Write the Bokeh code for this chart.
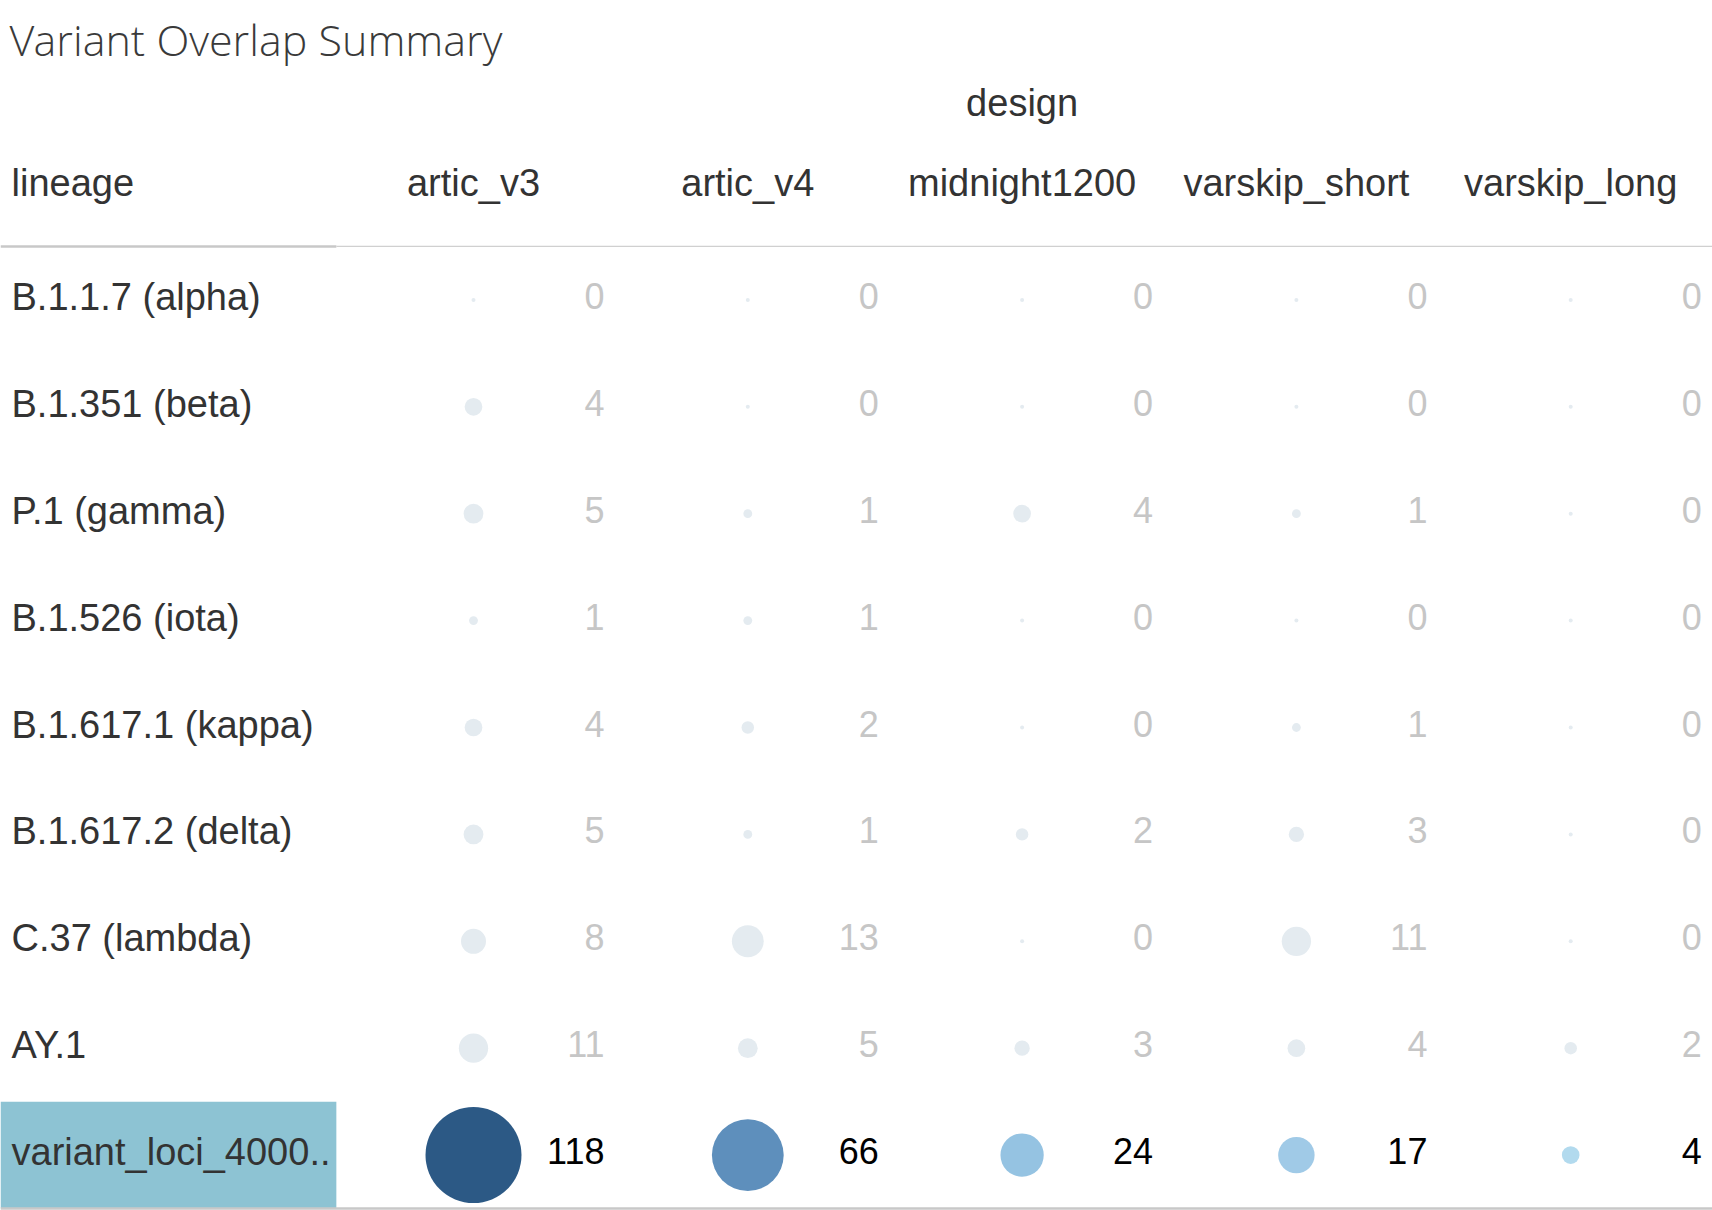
import numpy as np
from bokeh.plotting import figure
from bokeh.models import ColumnDataSource, Range1d, LinearColorMapper
from bokeh.transform import transform
from bokeh.core.properties import value
from bokeh.embed import file_html
from bokeh.resources import INLINE

# ---------------- data ----------------
title_text = "Variant Overlap Summary"
column_group = "design"
row_header = "lineage"
designs = ["artic_v3", "artic_v4", "midnight1200", "varskip_short", "varskip_long"]
lineages = ["B.1.1.7 (alpha)", "B.1.351 (beta)", "P.1 (gamma)", "B.1.526 (iota)",
            "B.1.617.1 (kappa)", "B.1.617.2 (delta)", "C.37 (lambda)", "AY.1",
            "variant_loci_4000.."]
artic_v3 = [0, 4, 5, 1, 4, 5, 8, 11, 118]
artic_v4 = [0, 0, 1, 1, 2, 1, 13, 5, 66]
midnight1200 = [0, 0, 4, 0, 0, 2, 0, 3, 24]
varskip_short = [0, 0, 1, 0, 1, 3, 11, 4, 17]
varskip_long = [0, 0, 0, 0, 0, 0, 0, 2, 4]
highlighted = "variant_loci_4000.."

series = {"artic_v3": artic_v3, "artic_v4": artic_v4, "midnight1200": midnight1200,
          "varskip_short": varskip_short, "varskip_long": varskip_long}

# ---------------- layout / style ----------------
W, H = 1712, 1210
COL_W, ROW_H = 274.3, 106.9          # pixel pitch of a cell
COL0_X, ROW0_Y = 473.0, 299.4        # canvas px of first cell centre
MAX_D = 96.0                          # diameter of the largest bubble
MIN_D = 4.0

def ydat(canvas_y):
    return (canvas_y - ROW0_Y) / ROW_H

x_start = (0 - COL0_X) / COL_W
x_end = (W - COL0_X) / COL_W
y_top = ydat(0)
y_bottom = ydat(H)

LABEL_FONT = value("Liberation Sans")
TEXT_DARK = "#333333"
FADED_FILL = "#E4EBF0"
FADED_TEXT = "#C6C6C6"
HILITE_BG = "#8DC3D3"

# sequential palette (value fraction -> colour)
stops = [(0.0, "#B7DDF0"), (4 / 118, "#B2DAEE"), (17 / 118, "#A0CAE7"),
         (24 / 118, "#95C3E2"), (66 / 118, "#5E8FBC"), (1.0, "#2C5985")]

def hex2rgb(h):
    return np.array([int(h[i:i + 2], 16) for i in (1, 3, 5)], dtype=float)

st_t = np.array([s[0] for s in stops])
st_c = np.array([hex2rgb(s[1]) for s in stops])
palette = []
for t in np.linspace(0, 1, 256):
    rgb = [np.interp(t, st_t, st_c[:, k]) for k in range(3)]
    palette.append("#%02x%02x%02x" % tuple(int(round(c)) for c in rgb))

# ---------------- cell table ----------------
vmax = max(max(v) for v in series.values())
rows = {"x": [], "y": [], "v": [], "label": [], "size": []}
hl = {"x": [], "y": [], "v": [], "label": [], "size": []}
for ci, d in enumerate(designs):
    for ri, lin in enumerate(lineages):
        v = series[d][ri]
        tgt = hl if lin == highlighted else rows
        tgt["x"].append(ci)
        tgt["y"].append(ri)
        tgt["v"].append(v)
        tgt["label"].append(str(v))
        tgt["size"].append(max(MAX_D * np.sqrt(v / vmax), MIN_D))

src_faded = ColumnDataSource(rows)
src_hl = ColumnDataSource(hl)

p = figure(width=W, height=H, output_backend="svg", toolbar_location=None,
           x_range=Range1d(x_start, x_end), y_range=Range1d(y_bottom, y_top),
           x_axis_location=None, y_axis_location=None, min_border=0,
           outline_line_color=None, background_fill_color="white",
           border_fill_color="white")
p.xgrid.visible = False
p.ygrid.visible = False

# highlighted row label background
hi = lineages.index(highlighted)
p.quad(left=[x_start], right=[-0.5], top=[hi - 0.5], bottom=[hi + 0.5],
       fill_color=HILITE_BG, line_color=None)

# header rule and bottom rule
p.segment(x0=[x_start], x1=[-0.5], y0=[-0.5], y1=[-0.5],
          line_color="#C8C8C8", line_width=2.5)
p.segment(x0=[-0.5], x1=[x_end], y0=[-0.5], y1=[-0.5],
          line_color="#D0D0D0", line_width=1.2)
p.segment(x0=[x_start], x1=[x_end], y0=[hi + 0.5], y1=[hi + 0.5],
          line_color="#C8C8C8", line_width=2.5)

# bubbles
p.scatter(x="x", y="y", size="size", source=src_faded, marker="circle",
          fill_color=FADED_FILL, line_color=None)
mapper = LinearColorMapper(palette=palette, low=0, high=vmax)
p.scatter(x="x", y="y", size="size", source=src_hl, marker="circle",
          fill_color=transform("v", mapper), line_color=None)

# numbers
p.text(x="x", y="y", text="label", source=src_faded, x_offset=131, y_offset=-4,
       text_align="right", text_baseline="middle", text_font=LABEL_FONT,
       text_font_size="36px", text_color=FADED_TEXT)
p.text(x="x", y="y", text="label", source=src_hl, x_offset=131, y_offset=-4,
       text_align="right", text_baseline="middle", text_font=LABEL_FONT,
       text_font_size="36px", text_color="#000000")

# lineage labels
p.text(x=[x_start] * len(lineages), y=list(range(len(lineages))), text=lineages,
       x_offset=11, y_offset=-3, text_align="left", text_baseline="middle",
       text_font=LABEL_FONT, text_font_size="38px", text_color=TEXT_DARK)

# column headers
p.text(x=list(range(len(designs))), y=[ydat(182)] * len(designs), text=designs,
       text_align="center", text_baseline="middle", text_font=LABEL_FONT,
       text_font_size="38px", text_color=TEXT_DARK)
p.text(x=[x_start], y=[ydat(182)], text=[row_header], x_offset=11,
       text_align="left", text_baseline="middle", text_font=LABEL_FONT,
       text_font_size="38px", text_color=TEXT_DARK)
p.text(x=[(len(designs) - 1) / 2], y=[ydat(102)], text=[column_group],
       text_align="center", text_baseline="middle", text_font=LABEL_FONT,
       text_font_size="38px", text_color=TEXT_DARK)

# title
p.text(x=[x_start], y=[ydat(39)], text=[title_text], x_offset=9,
       text_align="left", text_baseline="middle",
       text_font=value("'Open Sans Light', 'Open Sans', sans-serif"),
       text_font_size="43px", text_color="#3a3a3a")

open("out.html", "w").write(file_html(p, INLINE))
